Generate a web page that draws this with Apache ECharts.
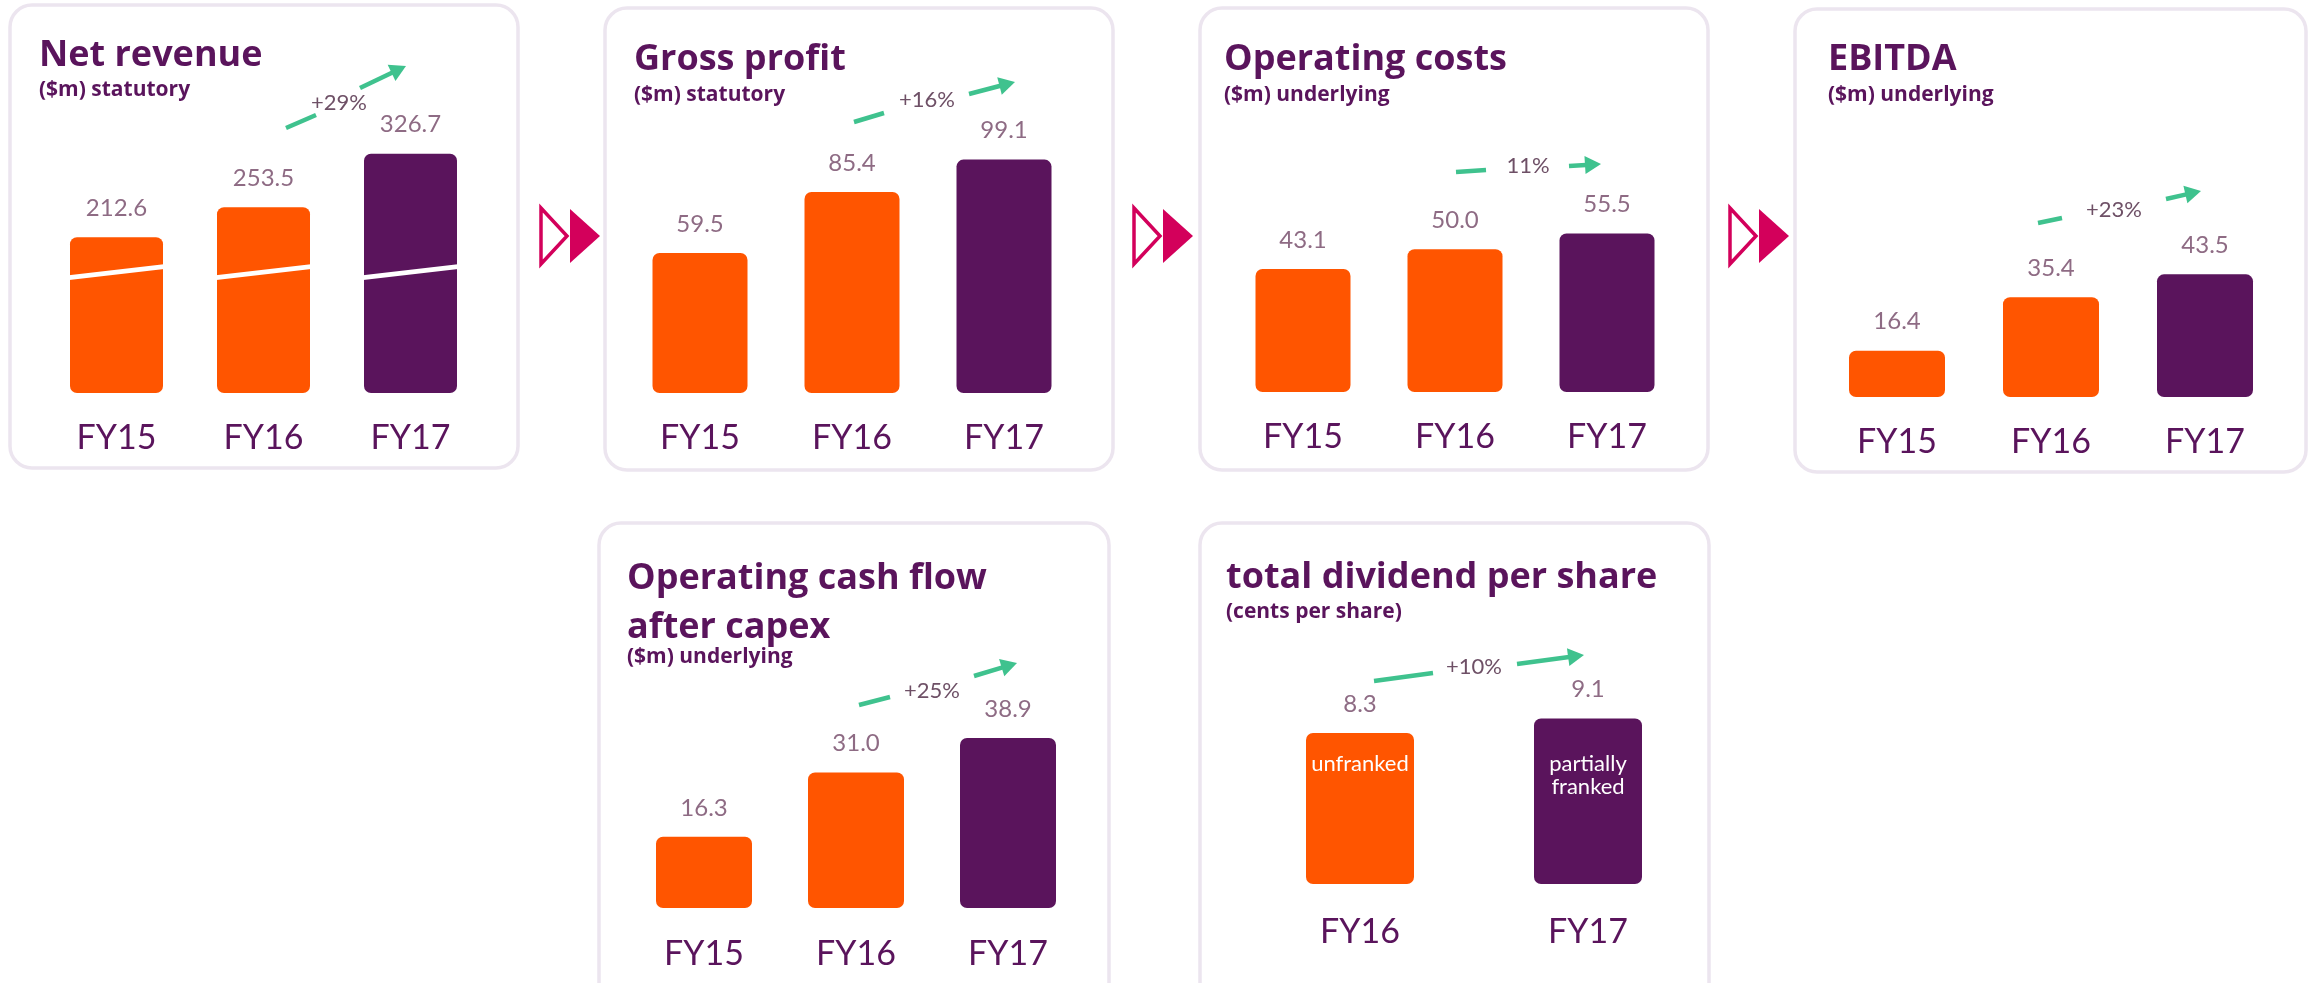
<!DOCTYPE html>
<html>
<head>
<meta charset="utf-8">
<script src="https://cdn.jsdelivr.net/npm/echarts@6/dist/echarts.min.js"></script>
<style>
  html, body { margin: 0; padding: 0; background: #fff; }
  #chart { width: 2316px; height: 983px; }
</style>
</head>
<body>
<div id="chart"></div>
<script>
// 数据
const years3 = ['FY15', 'FY16', 'FY17']
const years2 = ['FY16', 'FY17']
const netRevenue = [212.6, 253.5, 326.7]
const grossProfit = [59.5, 85.4, 99.1]
const operatingCosts = [43.1, 50.0, 55.5]
const ebitda = [16.4, 35.4, 43.5]
const cashFlow = [16.3, 31.0, 38.9]
const dividend = [8.3, 9.1]
const dividendNotes = ['unfranked', 'partially\nfranked']
const titles = ['Net revenue', 'Gross profit', 'Operating costs', 'EBITDA', 'Operating cash flow\nafter capex', 'total dividend per share']
const subtitles = ['($m) statutory', '($m) statutory', '($m) underlying', '($m) underlying', '($m) underlying', '(cents per share)']
const growth = ['+29%', '+16%', '11%', '+23%', '+25%', '+10%']

const purple = '#5a145c'
const orange = '#ff5500'
const green = '#3fc28e'
const pink = '#d3005b'
const font = 'Lato'
const titleFont = 'Open Sans'

// 面板布局
const panels = [
  { cats: years3, values: netRevenue, box: [10, 5, 508, 463], titleAt: [39, 38], subAt: [39, 80],
    grid: [43, 100, 441, 293], yMax: 400, barWidth: 93, margin: 28,
    arrow: [[286, 128], [316, 115], [360, 88], [406, 66]], textAt: [339, 103] },
  { cats: years3, values: grossProfit, box: [605, 8, 508, 462], titleAt: [634, 42], subAt: [634, 85],
    grid: [624, 110.4, 456, 282.6], yMax: 120, barWidth: 95, margin: 28,
    arrow: [[854, 122], [884, 113], [969, 94], [1015, 82]], textAt: [927, 100] },
  { cats: years3, values: operatingCosts, box: [1200, 8, 508, 462], titleAt: [1224, 42], subAt: [1224, 85],
    grid: [1227, 106.5, 456, 285.5], yMax: 100, barWidth: 95, margin: 28,
    arrow: [[1456, 172], [1486, 170], [1569, 166], [1601, 164]], textAt: [1528, 166] },
  { cats: years3, values: ebitda, box: [1795, 9, 511, 463], titleAt: [1828, 42], subAt: [1828, 85],
    grid: [1820, 115, 462, 282], yMax: 100, barWidth: 96, margin: 28,
    arrow: [[2038, 223], [2062, 218], [2166, 199], [2201, 191]], textAt: [2114, 210] },
  { cats: years3, values: cashFlow, box: [599, 523, 510, 500], titleAt: [627, 554], subAt: [627, 647],
    grid: [628, 645.8, 456, 262.2], yMax: 60, barWidth: 96, margin: 29,
    arrow: [[859, 705], [890, 697], [974, 676], [1017, 663]], textAt: [932, 691] },
  { cats: years2, values: dividend, box: [1200, 523, 509, 500], titleAt: [1226, 560], subAt: [1226, 602],
    grid: [1246, 629.2, 456, 254.8], yMax: 14, barWidth: 108, margin: 31,
    arrow: [[1374, 681], [1433, 673], [1517, 664], [1584, 655]], textAt: [1474, 667] }
]

const separators = [539, 1132, 1728]
const revenueBreak = 165
const notesY = 752

const chart = echarts.init(document.getElementById('chart'))

const option = {
  backgroundColor: '#fff',
  animation: false,
  textStyle: { fontFamily: font },
  title: [],
  grid: [],
  xAxis: [],
  yAxis: [],
  series: []
}

panels.forEach((p, i) => {
  const multi = titles[i].includes('\n')
  option.title.push({
    text: titles[i],
    left: p.titleAt[0],
    top: p.titleAt[1],
    padding: 0,
    textStyle: { fontFamily: titleFont, fontSize: 36, fontWeight: 'bold', color: purple, lineHeight: multi ? 49 : 36 }
  })
  option.title.push({
    text: subtitles[i],
    left: p.subAt[0],
    top: p.subAt[1],
    padding: 0,
    textStyle: { fontFamily: titleFont, fontSize: 21, fontWeight: 'bold', color: purple, lineHeight: 21 }
  })
  option.grid.push({ left: p.grid[0], top: p.grid[1], width: p.grid[2], height: p.grid[3] })
  option.xAxis.push({
    type: 'category',
    gridIndex: i,
    data: p.cats,
    axisLine: { show: false },
    axisTick: { show: false },
    axisLabel: { margin: p.margin, fontSize: 34, lineHeight: 34, color: purple, fontFamily: font }
  })
  option.yAxis.push({ type: 'value', gridIndex: i, min: 0, max: p.yMax, show: false, splitLine: { show: false } })
  const last = p.values.length - 1
  option.series.push({
    type: 'bar',
    xAxisIndex: i,
    yAxisIndex: i,
    data: p.values,
    barWidth: p.barWidth,
    itemStyle: {
      borderRadius: 7,
      color: params => params.dataIndex === last ? purple : orange
    },
    label: {
      show: true,
      position: 'top',
      distance: 17,
      formatter: params => params.value.toFixed(1),
      fontFamily: font,
      fontSize: 24,
      lineHeight: 24,
      color: '#8e6b84'
    }
  })
})

chart.setOption(option)

// 装饰元素
const graphic = []

panels.forEach(p => {
  graphic.push({
    type: 'rect',
    z: -10,
    shape: { x: p.box[0], y: p.box[1], width: p.box[2], height: p.box[3], r: 22 },
    style: { fill: '#fff', stroke: '#ece5ef', lineWidth: 3.5 }
  })
})

separators.forEach(x0 => {
  graphic.push({
    type: 'polygon',
    shape: { points: [[x0 + 2, 208], [x0 + 28, 236], [x0 + 2, 264]] },
    style: { fill: '#fff', stroke: pink, lineWidth: 3.5 }
  })
  graphic.push({
    type: 'polygon',
    shape: { points: [[x0 + 31, 209], [x0 + 61, 236], [x0 + 31, 263]] },
    style: { fill: pink }
  })
})

panels.forEach((p, i) => {
  const [a1, a2, b1, tip] = p.arrow
  graphic.push({ type: 'line', shape: { x1: a1[0], y1: a1[1], x2: a2[0], y2: a2[1] }, style: { stroke: green, lineWidth: 4.5 } })
  const dx = tip[0] - b1[0]
  const dy = tip[1] - b1[1]
  const len = Math.sqrt(dx * dx + dy * dy)
  const ux = dx / len
  const uy = dy / len
  const head = 16
  const half = 9
  const bx = tip[0] - ux * head
  const by = tip[1] - uy * head
  graphic.push({ type: 'line', shape: { x1: b1[0], y1: b1[1], x2: bx + ux, y2: by + uy }, style: { stroke: green, lineWidth: 4.5 } })
  graphic.push({
    type: 'polygon',
    shape: { points: [[tip[0], tip[1]], [bx - uy * half, by + ux * half], [bx + uy * half, by - ux * half]] },
    style: { fill: green }
  })
  graphic.push({
    type: 'text',
    x: p.textAt[0],
    y: p.textAt[1],
    style: { text: growth[i], font: '22px ' + font, fill: '#6e5066', align: 'center', verticalAlign: 'middle' }
  })
})

// 净收入柱子上的断开线
netRevenue.forEach((v, i) => {
  const pt = chart.convertToPixel({ gridIndex: 0 }, [i, revenueBreak])
  const hw = panels[0].barWidth / 2
  graphic.push({
    type: 'line',
    z: 100,
    shape: { x1: pt[0] - hw - 1, y1: pt[1] + 5.5, x2: pt[0] + hw + 1, y2: pt[1] - 5.5 },
    style: { stroke: '#fff', lineWidth: 5 }
  })
})

// 股息说明
dividend.forEach((v, i) => {
  const pt = chart.convertToPixel({ gridIndex: 5 }, [i, 0])
  graphic.push({
    type: 'text',
    z: 100,
    x: pt[0],
    y: notesY,
    style: { text: dividendNotes[i], font: '22px ' + font, lineHeight: 23, fill: '#fff', align: 'center', verticalAlign: 'top' }
  })
})

chart.setOption({ graphic })

window.addEventListener('resize', () => chart.resize())
</script>
</body>
</html>
